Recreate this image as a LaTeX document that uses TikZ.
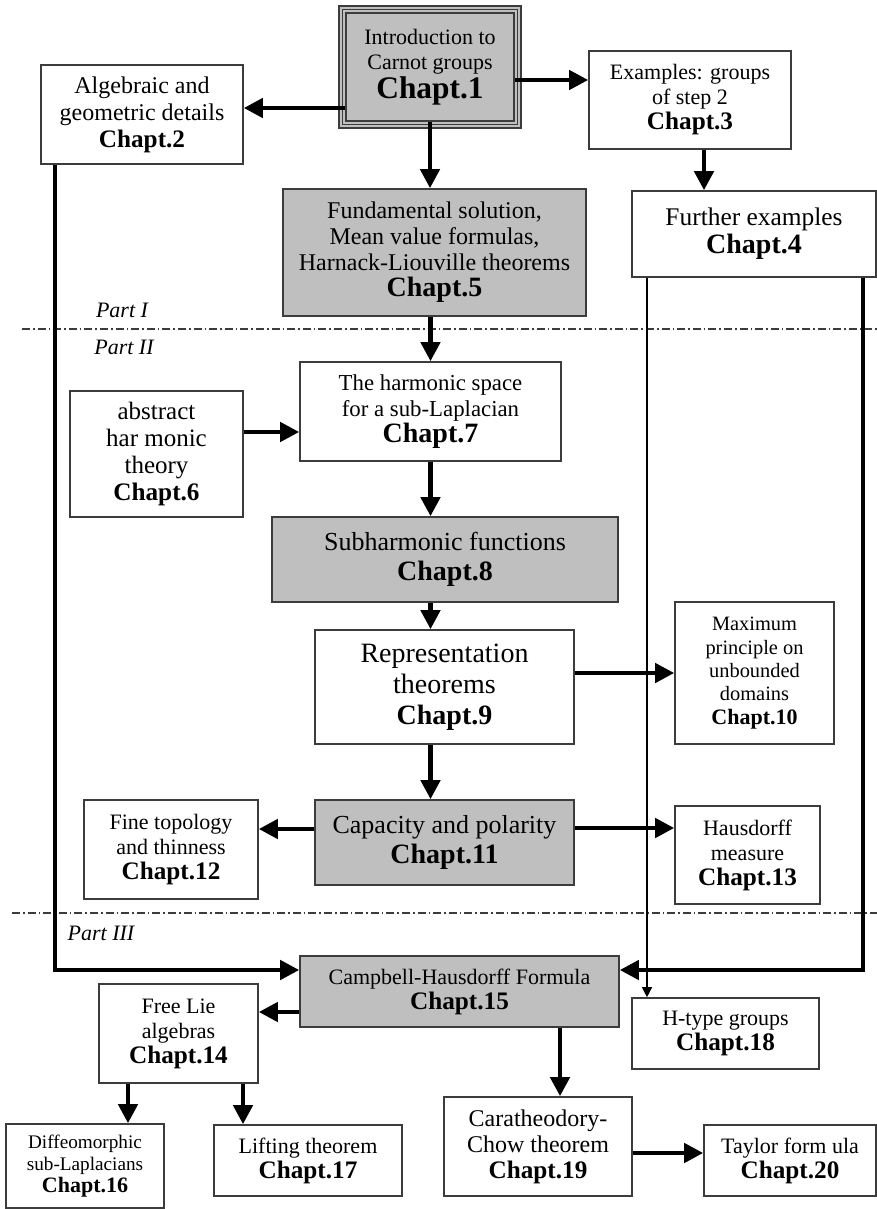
\documentclass[tikz,border=0pt]{standalone}
\usepackage{fontspec}
\setmainfont{Liberation Serif}
\usetikzlibrary{arrows.meta}
\definecolor{boxgray}{RGB}{191,191,191}
\definecolor{edgegray}{RGB}{60,60,60}
\newcommand{\chapno}[2][12.6]{{\fontsize{#1}{#1}\selectfont\bfseries Chapt.#2}}
\tikzset{
  chapbox/.style={draw=edgegray, line width=0.8pt, fill=white, rectangle,
    align=center, inner sep=0pt, font=\fontsize{11}{12.5}\selectfont},
  keybox/.style={chapbox, fill=boxgray},
  fs/.style n args={2}{font=\fontsize{#1}{#2}\selectfont},
  arr/.style={line width=2.2pt, -{Triangle[length=9.5pt,width=9.5pt]}},
  thinarr/.style={line width=0.6pt, -{Triangle[length=5pt,width=5pt]}},
  partline/.style={draw=edgegray, line width=0.6pt,
    dash pattern=on 4pt off 1.5pt on 0.8pt off 1.5pt},
  partlabel/.style={font=\fontsize{11}{12}\selectfont\itshape},
}
\begin{document}
\begin{tikzpicture}[x=0.5pt, y=-0.5pt]
\useasboundingbox (0,0) rectangle (877,1209);

% part separators
\draw[partline] (22,329) -- (877,329);
\draw[partline] (12,913) -- (877,913);
\node[partlabel] (p1) at (122,310) {Part I};
\node[partlabel] (p2) at (124,347) {Part II};
\node[partlabel] (p3) at (101,933) {Part III};

% Part I
\draw[draw=edgegray, line width=0.8pt, fill=boxgray] (339,6) rectangle (521,128);
\draw[draw=edgegray, line width=0.8pt] (342.5,9.5) rectangle (517.5,124.5);
\node[keybox, minimum width=84pt, minimum height=54pt] (c1) at (430,67)
  {Introduction to\\Carnot groups\\\chapno[15.7]{1}};
\node[chapbox, fs={12}{13.5}, minimum width=101pt, minimum height=49.5pt] (c2) at (142,114.5)
  {Algebraic and\\geometric details\\\chapno{2}};
\node[chapbox, minimum width=101pt, minimum height=49pt] (c3) at (690,100)
  {Examples: groups\\of step 2\\\chapno{3}};
\node[chapbox, fs={12.7}{14}, minimum width=122pt, minimum height=43pt] (c4) at (754,234)
  {Further examples\\\chapno[14]{4}};
\node[keybox, fs={12}{13}, minimum width=151.5pt, minimum height=63.5pt] (c5) at (434.5,252.5)
  {Fundamental solution,\\Mean value formulas,\\Harnack-Liouville theorems\\\chapno[14]{5}};

% Part II
\node[chapbox, fs={12.5}{13.5}, minimum width=86.5pt, minimum height=63pt] (c6) at (156.5,454)
  {abstract\\har monic\\theory\\\chapno{6}};
\node[chapbox, fs={11.4}{12.8}, minimum width=130.5pt, minimum height=49.5pt] (c7) at (430.5,411.5)
  {The harmonic space\\for a sub-Laplacian\\\chapno[14]{7}};
\node[keybox, fs={13}{15}, minimum width=173pt, minimum height=42.5pt] (c8) at (445,559.5)
  {Subharmonic functions\\\chapno[14]{8}};
\node[chapbox, fs={14}{15.5}, minimum width=129.5pt, minimum height=57pt] (c9) at (444.5,687)
  {Representation\\theorems\\\chapno[14]{9}};
\node[chapbox, fs={10.2}{11.7}, minimum width=79.5pt, minimum height=71pt] (c10) at (754.5,673)
  {Maximum\\principle on\\unbounded\\domains\\\chapno[11]{10}};
\node[keybox, fs={13}{15}, minimum width=129.5pt, minimum height=42.5pt] (c11) at (444.5,842.5)
  {Capacity and polarity\\\chapno[14]{11}};
\node[chapbox, minimum width=87pt, minimum height=49.5pt] (c12) at (171,849.5)
  {Fine topology\\and thinness\\\chapno{12}};
\node[chapbox, minimum width=72.5pt, minimum height=49pt] (c13) at (747.5,855)
  {Hausdorff\\measure\\\chapno{13}};

% Part III
\node[chapbox, minimum width=79.5pt, minimum height=49.5pt] (c14) at (178.5,1033.5)
  {Free Lie\\algebras\\\chapno{14}};
\node[keybox, minimum width=159.5pt, minimum height=35.5pt] (c15) at (459.5,991.5)
  {Campbell-Hausdorff Formula\\\chapno{15}};
\node[chapbox, fs={9.6}{11}, minimum width=79pt, minimum height=42pt] (c16) at (85,1166)
  {Diffeomorphic\\sub-Laplacians\\\chapno[11]{16}};
\node[chapbox, minimum width=94pt, minimum height=35.5pt] (c17) at (308,1160.5)
  {Lifting theorem\\\chapno{17}};
\node[chapbox, minimum width=93.5pt, minimum height=35.5pt] (c18) at (725.5,1033.5)
  {H-type groups\\\chapno{18}};
\node[chapbox, fs={12}{13}, minimum width=94pt, minimum height=49.5pt] (c19) at (538,1146.5)
  {Caratheodory-\\Chow theorem\\\chapno{19}};
\node[chapbox, minimum width=86pt, minimum height=35.5pt] (c20) at (790,1160.5)
  {Taylor form ula\\\chapno{20}};

% connectors
\draw[arr] (c1.west |- 0,108) -- (c2.east |- 0,108);
\draw[arr] (c1.east |- 0,80) -- (c3.west |- 0,80);
\draw[arr] (c1.south) -- (c1.south |- c5.north);
\draw[arr] (c3.south -| 704,0) -- (c4.north -| 704,0);
\draw[arr] (c5.south -| c7.north) -- (c7.north);
\draw[arr] (c6.east |- 0,432) -- (c7.west |- 0,432);
\draw[arr] (c7.south) -- (c7.south |- c8.north);
\draw[arr] (c8.south -| c7.south) -- (c9.north -| c7.south);
\draw[arr] (c9.east |- c10.west) -- (c10.west);
\draw[arr] (c9.south -| c7.south) -- (c11.north -| c7.south);
\draw[arr] (c11.west |- 0,829) -- (c12.east |- 0,829);
\draw[arr] (c11.east |- 0,828) -- (c13.west |- 0,828);
\draw[arr] (c2.south -| 55,0) |- (c15.west |- 0,970);
\draw[arr] (c4.south -| 863,0) |- (c15.east |- 0,970);
\draw[thinarr] (c4.south -| 647,0) -- (c18.north -| 647,0);
\draw[arr] (c15.west |- 0,1012) -- (c14.east |- 0,1012);
\draw[arr] (c15.south -| 560,0) -- (c19.north -| 560,0);
\draw[arr] (c14.south -| 128,0) -- (c16.north -| 128,0);
\draw[arr] (c14.south -| 243,0) -- (c17.north -| 243,0);
\draw[arr] (c19.east |- 0,1153) -- (c20.west |- 0,1153);
\end{tikzpicture}
\end{document}
